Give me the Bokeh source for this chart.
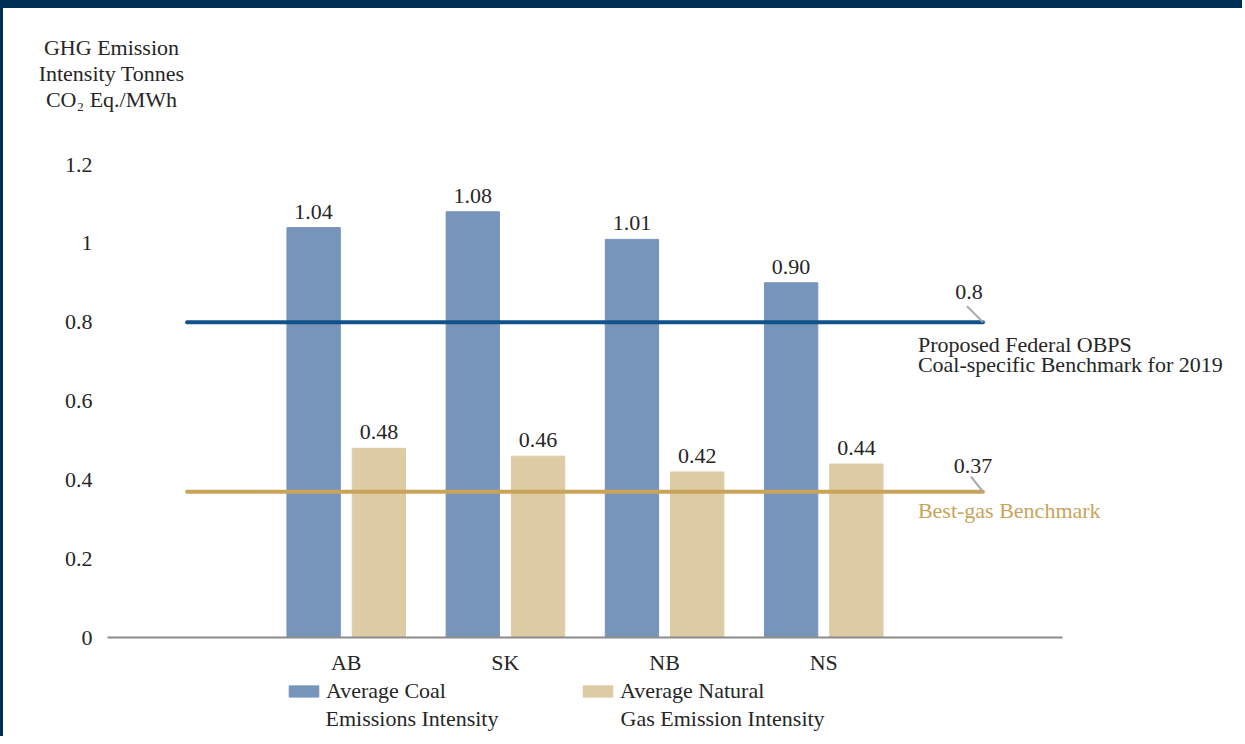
import numpy as np
from bokeh.plotting import figure
from bokeh.models import (ColumnDataSource, FixedTicker, Label, LabelSet, Legend,
                          LegendItem)
from bokeh.embed import file_html
from bokeh.resources import INLINE

# ---------------- data ----------------
categories = ["AB", "SK", "NB", "NS"]
coal_intensity = [1.04, 1.08, 1.01, 0.90]
gas_intensity = [0.48, 0.46, 0.42, 0.44]
coal_benchmark = 0.8
gas_benchmark = 0.37
y_ticks = [0, 0.2, 0.4, 0.6, 0.8, 1, 1.2]
y_tick_labels = ["0", "0.2", "0.4", "0.6", "0.8", "1", "1.2"]
coal_label = ["Average Coal", "Emissions Intensity"]
gas_label = ["Average Natural", "Gas Emission Intensity"]
coal_bench_label = ["Proposed Federal OBPS", "Coal-specific Benchmark for 2019"]
gas_bench_label = "Best-gas Benchmark"
y_title = ["GHG Emission", "Intensity Tonnes", "CO\u2082 Eq./MWh"]

# ---------------- style ----------------
FONT = "Liberation Serif"
FS = "22px"
TXT = "#262626"
COAL = "#7795BA"
GAS = "#DDCBA3"
COAL_LINE = "#10528C"
GAS_LINE = "#C8A45A"
NAVY = "#002F56"

W, H = 1242, 736                       # canvas (inside the CSS borders)
PLOT_L, PLOT_R, PLOT_T, PLOT_B = 104, 1059, 156, 629   # plotting area in canvas px

n = len(categories)
xpos = np.arange(1, n + 1)
x_lo, x_hi = -0.5, n + 1.5
y_lo, y_hi = 0, 1.2
pxx = (x_hi - x_lo) / (PLOT_R - PLOT_L)    # data units per pixel
pxy = (y_hi - y_lo) / (PLOT_B - PLOT_T)
off, bw = 0.205, 0.335

src = ColumnDataSource(dict(
    x_coal=xpos - off, x_gas=xpos + off,
    coal=coal_intensity, gas=gas_intensity,
    coal_txt=["%.2f" % v for v in coal_intensity],
    gas_txt=["%.2f" % v for v in gas_intensity],
))

p = figure(width=W, height=H,
           x_range=(x_lo - PLOT_L * pxx, x_hi + (W - PLOT_R) * pxx),
           y_range=(y_lo - (H - PLOT_B) * pxy, y_hi + PLOT_T * pxy),
           output_backend="svg", toolbar_location=None,
           min_border=0)
p.title.visible = False
p.styles = {"border-top": "8px solid " + NAVY, "border-left": "3px solid " + NAVY}
p.outline_line_color = None
p.background_fill_color = "white"
p.border_fill_color = "white"
p.xgrid.visible = False
p.ygrid.visible = False

# axes (drawn at fixed data locations inside the canvas)
p.yaxis.fixed_location = x_lo
p.yaxis.ticker = FixedTicker(ticks=y_ticks)
p.yaxis.major_label_overrides = {t: l for t, l in zip(y_ticks, y_tick_labels)}
p.yaxis.axis_line_color = None
p.yaxis.major_tick_line_color = None
p.yaxis.minor_tick_line_color = None
p.yaxis.major_label_standoff = 9
p.xaxis.fixed_location = 0
p.xaxis.bounds = (x_lo, x_hi)
p.xaxis.ticker = FixedTicker(ticks=list(xpos))
p.xaxis.major_label_overrides = {int(x): c for x, c in zip(xpos, categories)}
p.xaxis.axis_line_color = "#8C8C8C"
p.xaxis.axis_line_width = 2
p.xaxis.major_tick_line_color = None
p.xaxis.minor_tick_line_color = None
p.xaxis.major_label_standoff = 6
for ax in (p.xaxis, p.yaxis):
    ax.major_label_text_font = FONT
    ax.major_label_text_font_size = FS
    ax.major_label_text_color = TXT

# bars
coal_r = p.vbar(x="x_coal", top="coal", width=bw, source=src, color=COAL)
gas_r = p.vbar(x="x_gas", top="gas", width=bw, source=src, color=GAS)

for xcol, ycol, tcol in (("x_coal", "coal", "coal_txt"), ("x_gas", "gas", "gas_txt")):
    p.add_layout(LabelSet(x=xcol, y=ycol, text=tcol, source=src, y_offset=9,
                          text_align="center", text_baseline="alphabetic",
                          text_font=FONT, text_font_size=FS, text_color=TXT))

# benchmark lines
line_x = [0, n + 1]
p.line(line_x, [coal_benchmark] * 2, line_color=COAL_LINE, line_width=4, line_cap="round")
p.line(line_x, [gas_benchmark] * 2, line_color=GAS_LINE, line_width=4, line_cap="round")

# leader lines and benchmark value labels
end = n + 1
p.segment(x0=[end, end], y0=[coal_benchmark, gas_benchmark],
          x1=[end - 16 * pxx, end - 12 * pxx],
          y1=[coal_benchmark + 16 * pxy, gas_benchmark + 15 * pxy],
          line_color="#A6A6A6", line_width=2)

p.add_layout(Label(x=end, y=coal_benchmark, x_offset=-14, y_offset=30,
                   text="%g" % coal_benchmark, text_align="center",
                   text_baseline="alphabetic", text_font=FONT,
                   text_font_size=FS, text_color=TXT))
p.add_layout(Label(x=end, y=gas_benchmark, x_offset=-10, y_offset=26,
                   text="%g" % gas_benchmark, text_align="center",
                   text_baseline="alphabetic", text_font=FONT,
                   text_font_size=FS, text_color=TXT))
for i, t in enumerate(coal_bench_label):
    p.add_layout(Label(x=end, y=coal_benchmark, x_offset=-65, y_offset=-22 - 20 * i,
                       text=t, text_align="left", text_baseline="alphabetic",
                       text_font=FONT, text_font_size=FS, text_color=TXT))
p.add_layout(Label(x=end, y=gas_benchmark, x_offset=-65, y_offset=-19,
                   text=gas_bench_label, text_align="left", text_baseline="alphabetic",
                   text_font=FONT, text_font_size=FS, text_color=GAS_LINE))

# y-axis title (three centred lines above the axis)
for i, t in enumerate(y_title):
    p.add_layout(Label(x=x_lo, y=y_hi, x_offset=4, y_offset=117 - 26 * i,
                       text=t, text_align="center", text_baseline="alphabetic",
                       text_font=FONT, text_font_size=FS, text_color=TXT))

# legend below the axis (first line in the legend, second line underneath)
legend = Legend(items=[LegendItem(label=coal_label[0], renderers=[coal_r]),
                       LegendItem(label=gas_label[0], renderers=[gas_r])],
                orientation="horizontal", location=(282, 39),
                glyph_width=37, glyph_height=14, label_height=28,
                label_standoff=4, spacing=133,
                padding=0, margin=0, border_line_alpha=0,
                background_fill_alpha=0,
                label_text_font=FONT, label_text_font_size=FS,
                label_text_color=TXT)
p.add_layout(legend, "center")
for xo, t in ((218, coal_label[1]), (513, gas_label[1])):
    p.add_layout(Label(x=x_lo, y=y_lo, x_offset=xo, y_offset=-81,
                       text=t, text_align="left", text_baseline="middle",
                       text_font=FONT, text_font_size=FS, text_color=TXT))

open("out.html", "w").write(file_html(p, INLINE))
